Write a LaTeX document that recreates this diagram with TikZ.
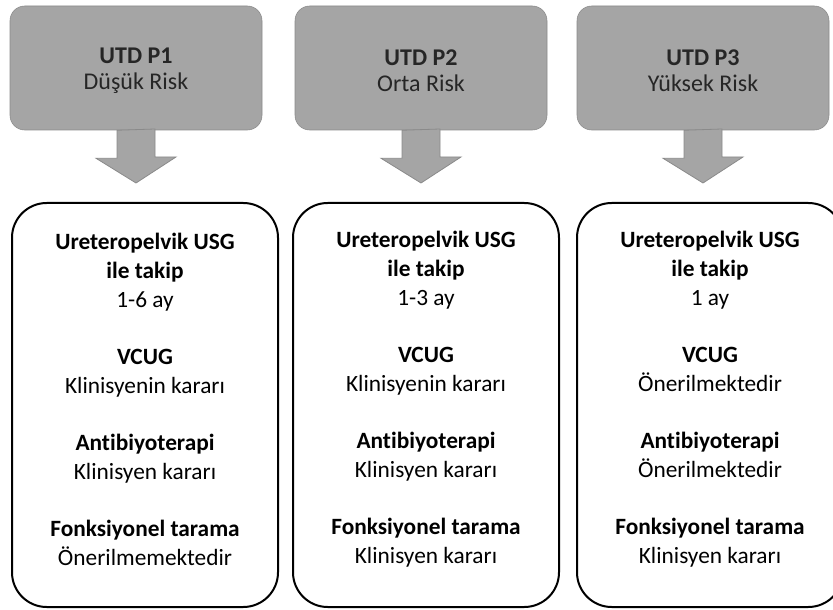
\documentclass[tikz,border=0pt]{standalone}
\usepackage{fontspec}
\setmainfont{Carlito}[Ligatures={NoCommon}]
\usetikzlibrary{calc}
\definecolor{riskgray}{HTML}{A5A5A5}
\definecolor{riskedge}{HTML}{8A8A8A}

\begin{document}
\begin{tikzpicture}[x=0.75pt,y=-0.75pt,
    riskbox/.style={draw=riskedge,fill=riskgray,rounded corners=11pt,minimum width=189pt,minimum height=93pt},
    risktext/.style={align=center,text=black!85,font=\fontsize{18}{19.5}\selectfont},
    infobox/.style={draw,line width=1.5pt,rounded corners=26pt,minimum width=199.5pt,minimum height=303pt},
    infotext/.style={align=center,font=\fontsize{17.5}{21.75}\selectfont},
    blockarrow/.style={draw=riskedge,fill=riskgray,line width=0.6pt}]
    \useasboundingbox (0,0) rectangle (833,610);
    \node[riskbox] (t1) at (136,68) {};
    \node[riskbox] (t2) at (421,68) {};
    \node[riskbox] (t3) at (703,68) {};
    \node[risktext] (t1txt) at ($(t1)+(0,3)$) {\textbf{UTD P1}\\Düşük Risk};
    \node[risktext] (t2txt) at ($(t2)+(0,3)$) {\textbf{UTD P2}\\Orta Risk};
    \node[risktext] (t3txt) at ($(t3)+(0,3)$) {\textbf{UTD P3}\\Yüksek Risk};
    \node[infobox] (b1) at (145,405) {};
    \node[infobox] (b2) at (426,405) {};
    \node[infobox] (b3) at (710,405) {};
    \node[infotext] (b1txt) at ($(b1)+(0,-6)$) {\textbf{Ureteropelvik USG}\\\textbf{ile takip}\\1-6 ay\\[21pt]
        \textbf{VCUG}\\Klinisyenin kararı\\[21pt]\textbf{Antibiyoterapi}\\Klinisyen kararı\\[21pt]
        \textbf{Fonksiyonel tarama}\\Önerilmemektedir};
    \node[infotext] (b2txt) at ($(b2)+(0,-6)$) {\textbf{Ureteropelvik USG}\\\textbf{ile takip}\\1-3 ay\\[21pt]
        \textbf{VCUG}\\Klinisyenin kararı\\[21pt]\textbf{Antibiyoterapi}\\Klinisyen kararı\\[21pt]
        \textbf{Fonksiyonel tarama}\\Klinisyen kararı};
    \node[infotext] (b3txt) at ($(b3)+(0,-6)$) {\textbf{Ureteropelvik USG}\\\textbf{ile takip}\\1 ay\\[21pt]
        \textbf{VCUG}\\Önerilmektedir\\[21pt]\textbf{Antibiyoterapi}\\Önerilmektedir\\[21pt]
        \textbf{Fonksiyonel tarama}\\Klinisyen kararı};
    \foreach \i in {1,2,3}
        \draw[blockarrow] ($(t\i.south)+(-19,0)$) -- ++(0,28) -- ++(-21,0)
            -- ($(t\i.south |- b\i.north)+(0,-19)$) -- ++(40,-26) -- ++(-21,0) -- ++(0,-28) -- cycle;
\end{tikzpicture}
\end{document}
